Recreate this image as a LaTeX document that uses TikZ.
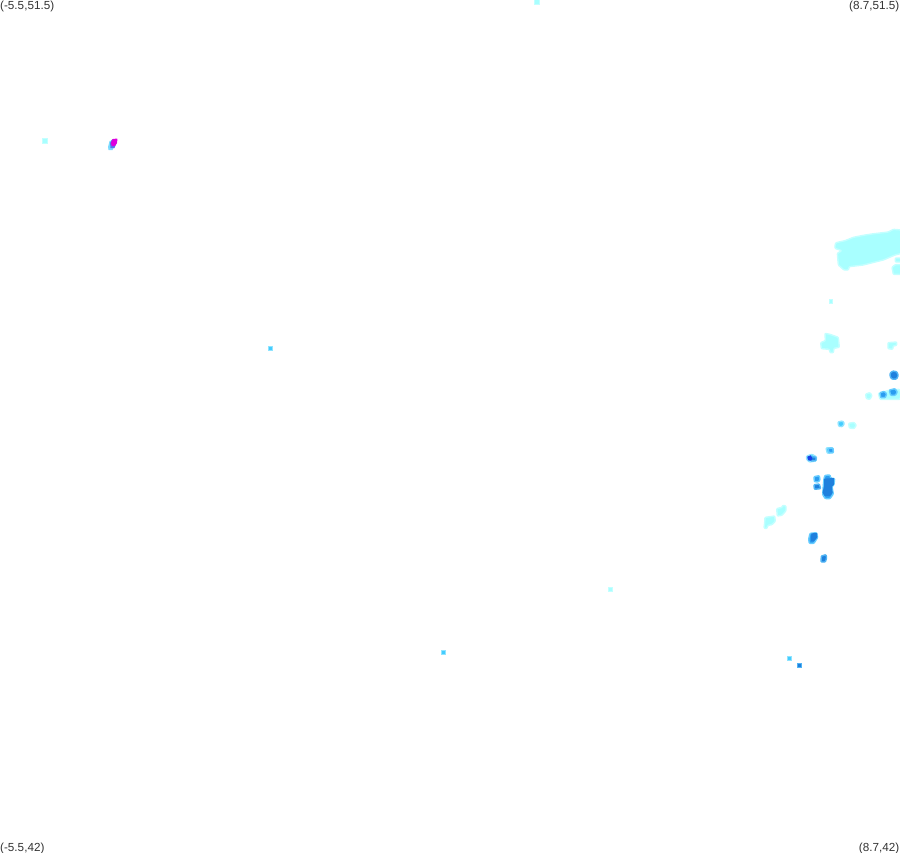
\documentclass[tikz,border=0pt]{standalone}
\usepackage{fontspec}
\setmainfont{Liberation Sans}
\definecolor{pale}{HTML}{A8FFFF}
\definecolor{paleb}{HTML}{C4FFFF}
\definecolor{sky}{HTML}{44CCFF}
\definecolor{skyb}{HTML}{90E4FF}
\definecolor{azure}{HTML}{2A9CF0}
\definecolor{azureb}{HTML}{66CCFF}
\definecolor{midblue}{HTML}{1F80DD}
\definecolor{midb}{HTML}{50B4F4}
\definecolor{deep}{HTML}{1840E8}
\definecolor{magen}{HTML}{DD00DD}
\tikzset{
  lab/.style={inner sep=0pt,font=\fontsize{11.7}{13}\selectfont,text=black!80},
  soft/.style n args={2}{fill=#1,draw=#2,line width=1.4pt,line join=round,rounded corners=0.8pt},
  lightblob/.style={soft={pale}{paleb}},
  skyblob/.style={soft={sky}{skyb}},
  azblob/.style={soft={azure}{azureb}},
  midblob/.style={soft={midblue}{midb}},
  squaredot/.style={sharp corners,line width=0.8pt,line join=miter},
}
\newcommand{\dotat}[4]{\path[#1,squaredot] (#2-#4,#3-#4) rectangle (#2+#4,#3+#4);}
\begin{document}
\begin{tikzpicture}[x=1pt,y=-1pt]
\useasboundingbox (0,0) rectangle (900,852);
\begin{scope}
\clip (0,0) rectangle (900,852);
% isolated dots
\dotat{lightblob}{537}{2}{2.2}
\dotat{lightblob}{45}{141}{2.2}
\dotat{skyblob}{270}{348}{1.9}
\dotat{lightblob}{831}{301.5}{1.7}
\dotat{lightblob}{610.5}{589}{2.1}
\dotat{skyblob}{443}{652}{1.9}
\dotat{skyblob}{789}{658}{2.1}
\dotat{midblob}{799}{665.5}{2.1}
% top-left blob
\fill[sky!70] (108,147) -- (109.5,141) -- (114,139.5) -- (116,143) -- (112.5,150) -- (108.5,150) -- cycle;
\fill[azure!75!magen] (110,143) -- (112,139.5) -- (116.5,139) -- (116.5,143) -- (114.5,148) -- (110.5,148) -- cycle;
\fill[magen,rounded corners=0.6pt] (111,142.5) -- (112.5,139) -- (117.5,138.5) -- (117,143) -- (115,146) -- (111.5,146) -- cycle;
% pale clusters, traced in 3x zoom units
\begin{scope}[shift={(750,220)},scale=0.3333]
\path[lightblob] (255,75) -- (258,68) -- (285,62) -- (310,52) -- (340,46) -- (365,42) -- (415,36) -- (430,28) -- (455,30) -- (455,100) -- (435,105) -- (400,120) -- (340,135) -- (298,140) -- (295,150) -- (282,150) -- (265,135) -- (262,100) -- (275,92) -- (255,85) -- cycle;
\path[lightblob] (436,114) rectangle (455,126);
\path[lightblob] (426,142) -- (436,134) -- (455,134) -- (455,163) -- (430,163) -- cycle;
\path[lightblob] (225,340) -- (240,343) -- (265,352) -- (268,382) -- (252,385) -- (250,398) -- (240,398) -- (238,388) -- (214,386) -- (212,368) -- (226,362) -- cycle;
\path[lightblob] (414,368) -- (440,366) -- (440,376) -- (430,378) -- (428,388) -- (414,386) -- cycle;
\end{scope}
\begin{scope}[shift={(750,360)},scale=0.3333]
% far right group
\path[lightblob] (385,100) -- (420,90) -- (448,88) -- (455,100) -- (450,118) -- (390,118) -- cycle;
\path[lightblob] (347,102) -- (360,98) -- (366,106) -- (360,118) -- (349,116) -- cycle;
\path[lightblob] (296,190) -- (312,187) -- (319,196) -- (312,206) -- (298,204) -- cycle;
\path[skyblob] (264,186) -- (278,183) -- (283,191) -- (277,200) -- (266,199) -- cycle;
\path[skyblob] (228,264) -- (248,263) -- (251,278) -- (232,280) -- cycle;
\path[azblob] (235,265) -- (249,264) -- (250,278) -- (236,278) -- cycle;
\path[midblob] (420,40) -- (428,33) -- (440,35) -- (445,46) -- (440,57) -- (428,58) -- (421,52) -- cycle;
\path[azblob] (390,98) -- (403,94) -- (410,102) -- (406,113) -- (392,113) -- cycle;
\path[azblob] (418,90) -- (435,86) -- (442,96) -- (436,106) -- (422,106) -- cycle;
% deep blue dab
\path[skyblob] (170,288) -- (186,283) -- (200,291) -- (198,303) -- (178,306) -- (170,298) -- cycle;
\path[midblob] (182,291) -- (198,291) -- (198,302) -- (182,303) -- cycle;
\fill[deep] (172,290) -- (182,286) -- (187,294) -- (184,302) -- (174,301) -- cycle;
% central column
\path[azblob] (192,350) -- (208,347) -- (210,360) -- (205,366) -- (193,365) -- cycle;
\path[midblob] (192,374) -- (208,372) -- (212,386) -- (193,388) -- cycle;
\path[azblob] (225,346) -- (240,345) -- (242,354) -- (254,356) -- (252,374) -- (246,380) -- (250,402) -- (240,416) -- (226,416) -- (218,404) -- (220,376) -- (222,356) -- cycle;
\fill[midblue] (222,356) -- (252,354) -- (252,374) -- (246,380) -- (248,398) -- (240,408) -- (224,408) -- (218,398) -- (222,378) -- cycle;
\end{scope}
\begin{scope}[shift={(750,500)},scale=0.3333]
\path[lightblob] (45,52) -- (60,50) -- (74,48) -- (76,64) -- (66,74) -- (54,76) -- (50,86) -- (42,84) -- (44,68) -- cycle;
\path[lightblob] (80,26) -- (96,22) -- (98,16) -- (108,18) -- (108,32) -- (96,46) -- (82,48) -- cycle;
\path[azblob] (180,100) -- (200,98) -- (203,112) -- (192,130) -- (178,130) -- (176,118) -- cycle;
\fill[midblue] (184,100) -- (201,99) -- (202,112) -- (192,124) -- (183,124) -- cycle;
\path[midblob] (214,168) -- (228,164) -- (230,174) -- (226,186) -- (213,186) -- cycle;
\end{scope}
\end{scope}
\node[lab,anchor=north west] (tl) at (0,0.5) {(-5.5,51.5)};
\node[lab,anchor=north east] (tr) at (899.5,0.5) {(8.7,51.5)};
\node[lab,anchor=south west] (bl) at (0,854) {(-5.5,42)};
\node[lab,anchor=south east] (br) at (899.5,854) {(8.7,42)};
\end{tikzpicture}
\end{document}
